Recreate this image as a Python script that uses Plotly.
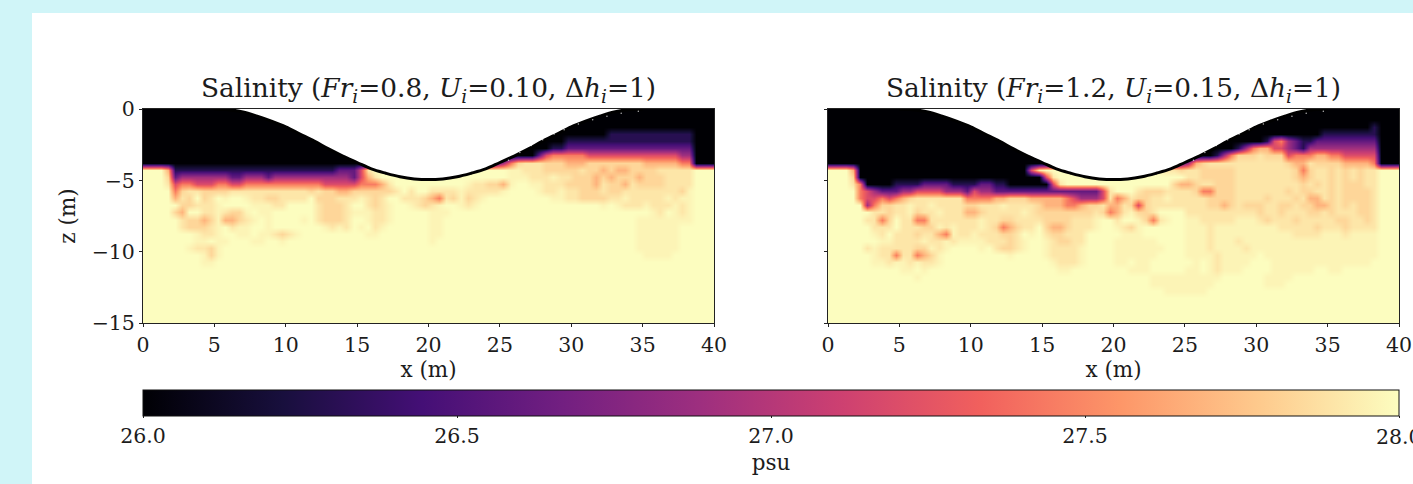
import plotly.graph_objects as go

# Salinity on a 0.5 m grid. Each character is a level from SALINITY_LEVELS.
SALINITY_LEVELS = {"0": 26.0, "1": 26.3, "2": 26.6, "3": 26.9, "4": 27.2, "5": 27.45,
                   "6": 27.68, "7": 27.83, "8": 27.9, "a": 27.96, "9": 28.0}
Z0 = "0000000000"
N9 = "9999999999"
X_CENTERS = [0.25 + 0.5 * i for i in range(80)]
Z_CENTERS = [-0.25 - 0.5 * i for i in range(30)]

LEFT_ROWS = [
    f"{Z0} {Z0} {Z0} {Z0} {Z0} {Z0} {Z0} {Z0}",
    f"{Z0} {Z0} {Z0} {Z0} {Z0} {Z0} {Z0} {Z0}",
    f"{Z0} {Z0} {Z0} {Z0} {Z0} {Z0} {Z0} {Z0}",
    f"{Z0} {Z0} {Z0} {Z0} {Z0} {Z0} 0000011111 1111111000",
    f"{Z0} {Z0} {Z0} {Z0} {Z0} 0000000001 1111111111 1111111000",
    f"{Z0} {Z0} {Z0} {Z0} {Z0} 0000000112 2222222222 2222222000",
    f"{Z0} {Z0} {Z0} {Z0} {Z0} 0000024555 5544444444 4444433000",
    f"{Z0} {Z0} {Z0} {Z0} 0000000012 3578887776 6677777777 6666655000",
    "9996111111 1111111111 1111111222 4899999999 9999999999 9aa8887777 7877676677 7788888999",
    "9997233333 3322333233 3333333332 4689999999 9999999999 9aaa888a88 7776767776 7778888999",
    "9998455444 5544555555 5555544444 5556899999 99999a8877 6a99aa8887 7776877687 7778888999",
    "9999578877 7788888888 8887877667 7777789899 8888a88888 a9999a88a8 8777877888 888887a999",
    "9999687978 9a99a88778 8889777888 a878998887 6587a78a99 9999999aa8 8777788a88 888a8aa999",
    "9999977888 a9999aaa88 9999877789 9878a99a87 8a99a8a999 9999999999 9999a9a888 a888a8a999",
    "9999769988 a877a9aa99 999987778a aa88a99999 aaa9999999 9999999999 9999999999 9a89a8a999",
    "9999987767 a6678a9a99 99a9877789 9a88a99999 aa99999999 9999999999 999999999a aaaaaaa999",
    "9999987778 a98aa99a99 99999a8a89 a98a999999 aa99999999 9999999999 999999999a aaaaa99999",
    "9999999a88 a99aa9aa87 8a99999999 9aa9999999 aa99999999 9999999999 999999999a aaaaa99999",
    "9999999aa9 aa999aa99a 9999999999 9999999999 a999999999 9999999999 999999999a aaaaa99999",
    "999999a887 a999999999 9999999999 9999999999 9999999999 9999999999 999999999a aaaaa99999",
    "99999999a7 a999999999 9999999999 9999999999 9999999999 9999999999 9999999999 aaaa999999",
    "99999999aa 9999999999 9999999999 9999999999 9999999999 9999999999 9999999999 9999999999",
    f"{N9} {N9} {N9} {N9} {N9} {N9} {N9} {N9}",
    f"{N9} {N9} {N9} {N9} {N9} {N9} {N9} {N9}",
    f"{N9} {N9} {N9} {N9} {N9} {N9} {N9} {N9}",
    f"{N9} {N9} {N9} {N9} {N9} {N9} {N9} {N9}",
    f"{N9} {N9} {N9} {N9} {N9} {N9} {N9} {N9}",
    f"{N9} {N9} {N9} {N9} {N9} {N9} {N9} {N9}",
    f"{N9} {N9} {N9} {N9} {N9} {N9} {N9} {N9}",
    f"{N9} {N9} {N9} {N9} {N9} {N9} {N9} {N9}",
]

RIGHT_ROWS = [
    f"{Z0} {Z0} {Z0} {Z0} {Z0} {Z0} {Z0} {Z0}",
    f"{Z0} {Z0} {Z0} {Z0} {Z0} {Z0} {Z0} {Z0}",
    f"{Z0} {Z0} {Z0} {Z0} {Z0} {Z0} {Z0} 0000001000",
    f"{Z0} {Z0} {Z0} {Z0} {Z0} {Z0} 0000000001 1111111000",
    f"{Z0} {Z0} {Z0} {Z0} {Z0} {Z0} 0145321122 2222222000",
    f"{Z0} {Z0} {Z0} {Z0} {Z0} 0000000135 6644321333 3333333000",
    f"{Z0} {Z0} {Z0} {Z0} {Z0} 0000135777 8777455566 5544444000",
    f"{Z0} {Z0} {Z0} {Z0} 0000000012 3678888888 8888766877 7766665000",
    "9996000000 0000000000 0000000048 9999999999 999999a887 8877777888 8888875788 7878788999",
    "9997000000 0000000000 0000000000 4899999999 9999999999 8877777888 8888876788 7878788999",
    "9998500001 1112222111 1221100000 0489999999 9999999976 6788777888 8888887878 7877788999",
    "9999543222 3344443332 4332222222 2222222248 9998777888 8755777888 8888787788 7877778999",
    "9999544545 6788888885 5556677766 6665433348 5687788a88 8887777888 8788878668 7877778999",
    "9999935778 8a88a88887 7888a88887 6665567786 6874788888 8887767877 7887787766 7878778999",
    "9999998878 8a788a8886 6788888a87 7777777875 68a7789999 8888888888 7887888778 7888778999",
    "9999988579 8855888888 8a88778888 7777888a99 899a758a99 aa88888aaa 8788878888 8778878999",
    "9999998889 88877a8a88 8a87567889 7667888a99 a87a999999 aaa8aaaaaa aaa8888878 8878888999",
    "999999a898 8878865a88 a8887789a9 8778889999 9aaa999999 aaa8aaaaaa aaaaa8888a aa8aaaa999",
    "9999999aa8 888a88a8aa aa88878a99 a877889999 aaaaaa9999 aaa8aaa8aa aaaaaaaaaa aaaaaaa999",
    "999998a888 8877a8a999 9a98778a99 a8888a9999 aaaaaaa999 aaa8aaaa8a aaaaaaaaaa aaaaaaa999",
    "999999a885 88567a9999 99999a9999 a8888a9999 aaaaaa9999 aaaa8aaaaa 9aaaaaaaaa aaaaaaa999",
    "999999aa8a a8a88a9999 9999999999 9a888a9999 aa9aa99999 9a9a8aaaa9 99aaaaaaaa aaaaaa9999",
    "9999999999 aa9a999999 9999999999 99aa999999 99aaa99999 aa9a8aaa99 99aaaaaa99 aa99999999",
    "9999999999 99a9999999 9999999999 9999999999 99999aaaaa aaaaa99999 9aaaa99999 9999999999",
    "9999999999 9999999999 9999999999 9999999999 99999aaaaa aaaa999999 9aaa999999 9999999999",
    "9999999999 9999999999 9999999999 9999999999 9999999aaa aaa9999999 9999999999 9999999999",
    f"{N9} {N9} {N9} {N9} {N9} {N9} {N9} {N9}",
    f"{N9} {N9} {N9} {N9} {N9} {N9} {N9} {N9}",
    f"{N9} {N9} {N9} {N9} {N9} {N9} {N9} {N9}",
    f"{N9} {N9} {N9} {N9} {N9} {N9} {N9} {N9}",
]

# Sill surface: the flume is empty (white) above it.
SILL_X = [5, 6, 7, 8, 9, 10, 11, 12, 13, 14, 15, 16, 17, 18, 19, 20,
          21, 22, 23, 24, 25, 26, 27, 28, 29, 30, 31, 32, 33, 34, 35]
SILL_Z = [0, -0.05, -0.2, -0.5, -0.85, -1.25, -1.75, -2.25, -2.8, -3.3, -3.75, -4.2, -4.5, -4.75, -4.9, -4.95,
          -4.9, -4.75, -4.5, -4.2, -3.75, -3.3, -2.8, -2.25, -1.75, -1.25, -0.85, -0.5, -0.2, -0.05, 0]

# Faint white specks just under the sill surface on its right-hand slope.
SPECK_X = [25.6, 26.4, 27.2, 28.0, 28.8, 29.5, 30.5, 31.5, 32.5, 33.5, 34.7]
SPECK_Z = [-3.6, -3.05, -2.55, -2.15, -1.75, -1.45, -1.05, -0.75, -0.5, -0.3, -0.15]

TITLES = ["Salinity (<i>Fr<sub>i</sub></i>=0.8, <i>U<sub>i</sub></i>=0.10, Δ<i>h<sub>i</sub></i>=1)",
          "Salinity (<i>Fr<sub>i</sub></i>=1.2, <i>U<sub>i</sub></i>=0.15, Δ<i>h<sub>i</sub></i>=1)"]
X_TICKS = [0, 5, 10, 15, 20, 25, 30, 35, 40]
Z_TICKS = [0, -5, -10, -15]
CBAR_TICKS = [26.0, 26.5, 27.0, 27.5]
CBAR_LAST = 28.0

W, H = 1413, 484
FONT = "DejaVu Serif"
INK = "#1c1c1c"


def decode(rows):
    return [[SALINITY_LEVELS[c] for c in r.replace(" ", "")] for r in rows]


fig = go.Figure()
for i, rows in enumerate([LEFT_ROWS, RIGHT_ROWS], start=1):
    xa, ya = ("x", "y") if i == 1 else (f"x{i}", f"y{i}")
    fig.add_trace(go.Heatmap(x=X_CENTERS, y=Z_CENTERS, z=decode(rows), coloraxis="coloraxis",
                             zsmooth="best", xaxis=xa, yaxis=ya, hoverinfo="skip"))
    fig.add_trace(go.Scatter(x=SILL_X, y=SILL_Z, mode="lines", fill="toself", fillcolor="white",
                             line=dict(width=0, shape="spline"), xaxis=xa, yaxis=ya, hoverinfo="skip", showlegend=False))
    fig.add_trace(go.Scatter(x=SILL_X, y=SILL_Z, mode="lines", line=dict(color="black", width=3, shape="spline"),
                             xaxis=xa, yaxis=ya, hoverinfo="skip", showlegend=False))
    fig.add_trace(go.Scatter(x=SPECK_X, y=SPECK_Z, mode="markers",
                             marker=dict(color="rgba(255,255,255,0.7)", size=1.5, line=dict(width=0)),
                             xaxis=xa, yaxis=ya, hoverinfo="skip", showlegend=False))

axis_common = dict(showgrid=False, zeroline=False, showline=True, linecolor="#222", linewidth=1, mirror=True,
                   ticks="outside", ticklen=3, tickcolor="#222", tickwidth=1,
                   tickfont=dict(family=FONT, size=20.5, color=INK))
title_font = dict(family=FONT, size=21.5, color=INK)


def xaxis(domain):
    return dict(axis_common, domain=domain, range=[0, 40], tickmode="array", tickvals=X_TICKS,
                title=dict(text="x (m)", font=title_font, standoff=4))


fig.update_layout(
    width=W, height=H, autosize=False, margin=dict(l=0, r=0, t=0, b=0, autoexpand=False),
    paper_bgcolor="#d0f5f8", plot_bgcolor="white", showlegend=False,
    xaxis=xaxis([143 / W, 714 / W]),
    xaxis2=xaxis([828 / W, 1399 / W]),
    yaxis=dict(axis_common, domain=[1 - 323 / H, 1 - 109 / H], range=[-15, 0], tickmode="array", tickvals=Z_TICKS,
               title=dict(text="z (m)", font=title_font, standoff=10)),
    yaxis2=dict(axis_common, domain=[1 - 323 / H, 1 - 109 / H], range=[-15, 0], anchor="x2", tickmode="array",
                tickvals=Z_TICKS, showticklabels=False),
    coloraxis=dict(
        colorscale="Magma", cmin=26, cmax=28,
        colorbar=dict(orientation="h", x=(143 + 1399) / 2 / W, xanchor="center", y=1 - 390 / H, yanchor="top",
                      lenmode="pixels", len=1256, thicknessmode="pixels", thickness=26, xpad=0, ypad=0,
                      outlinecolor="#111", outlinewidth=1, ticks="outside", ticklen=2, tickcolor="#222",
                      tickmode="array", tickvals=CBAR_TICKS + [CBAR_LAST],
                      ticktext=[f"{v:.1f}" for v in CBAR_TICKS] + [f"{CBAR_LAST:.1f}"],
                      tickfont=dict(family=FONT, size=20.5, color=INK),
                      title=dict(text="psu", side="bottom", font=title_font))),
    shapes=[dict(type="rect", xref="paper", yref="paper", x0=32 / W, x1=1, y0=0, y1=1 - 13 / H,
                 fillcolor="white", line=dict(width=0), layer="below")],
    annotations=[
        dict(text=TITLES[0], xref="paper", yref="paper", x=(143 + 714) / 2 / W, y=1 - 109 / H, xanchor="center",
             yanchor="bottom", showarrow=False, font=dict(family=FONT, size=26.4, color=INK)),
        dict(text=TITLES[1], xref="paper", yref="paper", x=(828 + 1399) / 2 / W, y=1 - 109 / H, xanchor="center",
             yanchor="bottom", showarrow=False, font=dict(family=FONT, size=26.4, color=INK)),
        dict(text=f"{CBAR_LAST:.1f}", xref="paper", yref="paper", x=1399 / W, y=1 - 436.5 / H, xanchor="center",
             yanchor="middle", showarrow=False, font=dict(family=FONT, size=20.5, color=INK)),
    ],
)

fig.write_html("out.html", config=dict(displayModeBar=False),
               post_script="document.body.style.margin='0';document.body.style.overflow='hidden';")
